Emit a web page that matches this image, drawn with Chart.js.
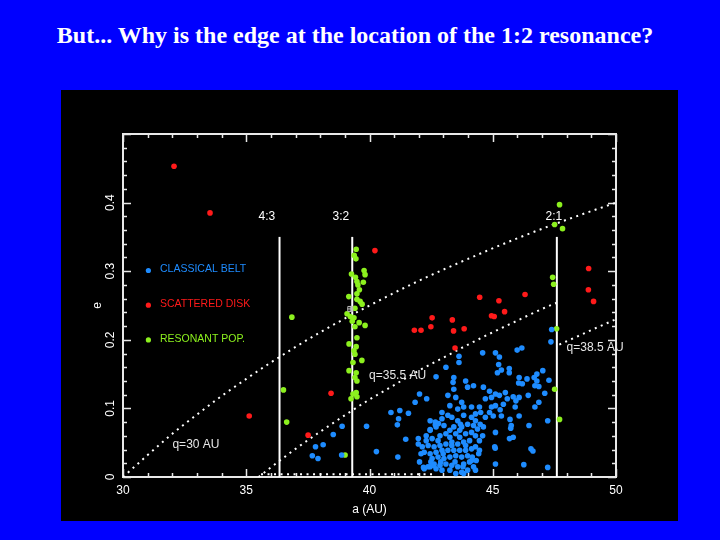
<!DOCTYPE html>
<html>
<head>
<meta charset="utf-8">
<script src="https://cdn.jsdelivr.net/npm/chart.js@4.4.0/dist/chart.umd.min.js"></script>
<style>
  html, body { margin: 0; padding: 0; background: #0000ff; }
  #wrap { position: relative; width: 720px; height: 540px; overflow: hidden; }
  #panel { position: absolute; left: 61px; top: 90px; width: 617px; height: 431px; background: #000; }
  #title { position: absolute; left: 0; top: 21px; width: 710px; text-align: center;
           font: bold 24px "Liberation Serif", "DejaVu Serif", serif; line-height: 28px; color: #fff; }
  canvas { position: absolute; left: 0; top: 0; }
</style>
</head>
<body>
<div id="wrap">
  <div id="title">But... Why is the edge at the location of the 1:2 resonance?</div>
  <div id="panel"></div>
  <canvas id="chart" width="720" height="540"></canvas>
</div>
<script>
// Ticks
const xTicks = [30, 35, 40, 45, 50];
const yTicks = [0, 0.1, 0.2, 0.3, 0.4];

// Classical belt [a, e]
const classical = [
  [37.68,0.031],[37.81,0.044],[37.91,0.027],[38.12,0.047],[38.53,0.062],[38.89,0.074],[38.87,0.032],
  [39.88,0.074],[40.28,0.037],[40.87,0.094],[41.13,0.076],[41.23,0.097],[41.18,0.085],[41.15,0.029],
  [41.47,0.055],[41.58,0.093],[41.85,0.109],[42.03,0.121],[42.32,0.114],[42.49,0.022],
  [42.19,0.014],[42.37,0.015],[42.60,0.017],[42.67,0.076],[42.46,0.069],[42.80,0.078],
  [42.46,0.082],[42.67,0.080],[42.94,0.085],[43.18,0.090],[43.34,0.087],[43.58,0.082],[43.82,0.090],
  [44.14,0.087],[44.30,0.082],[43.98,0.077],[43.74,0.073],[43.42,0.073],[43.02,0.075],[42.70,0.073],
  [42.46,0.068],[42.30,0.060],[42.54,0.056],[42.86,0.060],[43.10,0.063],[43.26,0.058],[43.50,0.063],
  [43.66,0.058],[43.90,0.063],[44.14,0.065],[44.30,0.060],[44.06,0.053],[43.82,0.051],[43.58,0.048],
  [43.34,0.051],[43.10,0.048],[42.86,0.046],[42.62,0.044],[42.38,0.046],[42.14,0.044],[41.98,0.048],
  [42.22,0.036],[42.46,0.034],[42.70,0.036],[42.94,0.039],[43.18,0.039],[43.42,0.039],[43.66,0.039],
  [43.90,0.039],[44.14,0.041],[44.30,0.044],[43.98,0.031],[43.74,0.029],[43.50,0.031],[43.26,0.029],
  [43.02,0.027],[42.78,0.029],[42.54,0.027],[42.62,0.019],[42.86,0.017],[43.10,0.019],[43.34,0.017],
  [43.58,0.015],[43.82,0.019],[44.06,0.022],[44.22,0.015],[44.30,0.010],[43.98,0.010],[43.74,0.007],
  [43.26,0.010],[42.94,0.010],[42.70,0.012],[42.46,0.015],[42.22,0.012],[43.50,0.005],[43.82,0.005],
  [42.03,0.022],[41.98,0.056],
  [43.69,0.077],[44.22,0.075],[44.38,0.070],[44.43,0.034],[44.17,0.029],[44.33,0.024],[42.78,0.053],
  [42.30,0.053],[42.09,0.034],[42.99,0.034],[43.34,0.046],[43.90,0.046],[43.47,0.022],[42.89,0.022],
  [43.66,0.068],[44.14,0.024],[43.26,0.068],[44.46,0.039],[44.49,0.077],[43.79,0.015],
  [43.10,0.160],[42.70,0.146],[43.42,0.145],[43.39,0.138],[43.42,0.128],[43.63,0.176],[43.63,0.167],
  [43.90,0.140],[43.98,0.131],[44.22,0.133],[43.18,0.119],[43.50,0.116],[43.74,0.109],[43.26,0.104],
  [43.58,0.099],[43.82,0.102],[42.94,0.094],[44.14,0.102],[44.46,0.102],[44.51,0.094],[44.30,0.092],
  [44.46,0.053],[44.59,0.060],[44.62,0.073],[44.70,0.087],[44.87,0.094],[44.95,0.102],[45.11,0.065],
  [45.08,0.044],[45.11,0.019],[45.75,0.075],[45.70,0.084],[45.83,0.058],[46.07,0.089],[46.47,0.075],
  [46.55,0.041],[46.26,0.018],[46.71,0.102],[46.87,0.109],[47.11,0.122],[47.23,0.014],[47.23,0.082],
  [46.71,0.133],[44.62,0.131],[44.87,0.125],[44.70,0.114],[44.95,0.116],[45.11,0.121],[45.27,0.119],
  [45.51,0.123],[45.59,0.114],[45.83,0.117],[45.94,0.111],[46.07,0.116],[46.44,0.119],[45.91,0.102],
  [45.43,0.106],[45.11,0.104],[45.30,0.098],[45.02,0.089],[45.35,0.089],[46.63,0.038],[45.10,0.042],
  [45.68,0.056],[45.73,0.071],
  [44.59,0.181],[45.11,0.181],[45.27,0.175],[45.99,0.185],[46.18,0.188],[45.24,0.164],[45.35,0.156],
  [45.19,0.152],[45.67,0.158],[45.67,0.152],[47.03,0.155],[47.36,0.197],[47.39,0.215],[46.68,0.145],
  [46.79,0.140],[46.87,0.132],[46.07,0.145],[46.20,0.136],[46.39,0.143],[47.28,0.141],[46.79,0.150],
  [46.05,0.137]
];

// Scattered disk [a, e]
const scattered = [
  [32.07,0.453],[33.53,0.385],[35.12,0.089],[37.51,0.061],[38.44,0.122],[40.22,0.330],[41.82,0.214],
  [42.09,0.214],[42.54,0.232],[42.49,0.219],[43.36,0.229],[43.41,0.213],[43.84,0.216],[43.47,0.188],
  [44.47,0.262],[44.95,0.235],[45.06,0.234],[45.25,0.257],[45.48,0.241],[46.31,0.266],[48.89,0.304],
  [48.88,0.273],[49.09,0.256]
];

// Resonant population [a, e]
const resonant = [
  [36.85,0.233],[36.51,0.127],[36.64,0.080],
  [47.71,0.397],[47.51,0.368],[47.83,0.362],[47.43,0.291],[47.47,0.281],[47.59,0.216],[47.51,0.128],
  [47.71,0.084],[39.01,0.032],
  [39.46,0.332],[39.38,0.323],[39.45,0.318],[39.27,0.296],[39.78,0.301],[39.82,0.295],[39.43,0.291],
  [39.49,0.285],[39.75,0.284],[39.53,0.280],[39.59,0.273],[39.49,0.267],[39.16,0.263],[39.49,0.259],
  [39.62,0.256],[39.70,0.252],[39.41,0.246],[39.09,0.238],[39.22,0.234],[39.37,0.232],[39.30,0.227],
  [39.58,0.225],[39.82,0.221],[39.41,0.219],[39.49,0.203],[39.17,0.194],[39.46,0.190],[39.37,0.184],
  [39.41,0.179],[39.69,0.170],[39.33,0.167],[39.17,0.155],[39.46,0.152],[39.41,0.145],[39.49,0.140],
  [39.46,0.123],[39.25,0.114],[39.49,0.117],[39.33,0.121]
];

// Pluto marker
const plutoA = [39.22];
const plutoE = [0.245];

// Perihelion curves
const q30A = [30, 31, 32, 33, 34, 35, 36, 38, 40, 42, 44, 46, 48, 50];
const q30E = [0, 0.032, 0.063, 0.091, 0.118, 0.143, 0.167, 0.211, 0.25, 0.286, 0.318, 0.348, 0.375, 0.4];
const q35A = [35.5, 36, 37, 38, 39, 40, 41, 42, 43, 44, 45, 46, 47, 47.6];
const q35E = [0, 0.014, 0.041, 0.066, 0.09, 0.113, 0.134, 0.155, 0.174, 0.193, 0.211, 0.228, 0.245, 0.254];
const q38A = [47.7, 48.5, 49.3, 50];
const q38E = [0.193, 0.206, 0.219, 0.23];
const floorA = [35.6, 42.6];
const floorE = [0.004, 0.004];

// Resonances
const resNames = ['4:3', '3:2', '2:1'];
const resA = [36.35, 39.3, 47.6];
const resLabelA = [35.84, 38.84, 47.48];
const resTopE = 0.35;

// Legend
const legendNames = ['CLASSICAL BELT', 'SCATTERED DISK', 'RESONANT POP.'];
const legendE = [0.301, 0.2505, 0.1998];

const cBlue = '#1e8cff', cRed = '#ff1a1a', cGreen = '#8cf01e';
const FONT = 'Liberation Sans';

const toXY = arr => arr.map(p => ({ x: p[0], y: p[1] }));
const zipXY = (xs, ys) => xs.map((x, i) => ({ x, y: ys[i] }));

const dotted = (data) => ({
  type: 'scatter', data, showLine: true, pointRadius: 0, borderColor: '#fff',
  borderWidth: 2, borderDash: [2, 4.5], cubicInterpolationMode: 'monotone', order: 5
});

const datasets = [
  dotted(zipXY(q30A, q30E)),
  dotted(zipXY(q35A, q35E)),
  dotted(zipXY(q38A, q38E)),
  dotted(zipXY(floorA, floorE)),
];
resA.forEach(a => {
  datasets.push({ data: [{ x: a, y: 0 }, { x: a, y: resTopE }], showLine: true, pointRadius: 0,
    borderColor: '#fff', borderWidth: 2, order: 4 });
});
datasets.push({ data: toXY(classical), pointRadius: 2.8, backgroundColor: cBlue, borderWidth: 0, order: 1 });
datasets.push({ data: toXY(scattered), pointRadius: 2.8, backgroundColor: cRed, borderWidth: 0, order: 1 });
datasets.push({ data: toXY(resonant), pointRadius: 2.8, backgroundColor: cGreen, borderWidth: 0, order: 1 });
datasets.push({ data: zipXY(plutoA, plutoE), pointStyle: 'rect', pointRadius: 3.5,
  backgroundColor: 'rgba(0,0,0,0)', borderColor: '#bbb', borderWidth: 1, order: 0 });
datasets.push({ data: zipXY(plutoA, plutoE), pointStyle: 'cross', pointRadius: 3,
  borderColor: '#bbb', borderWidth: 1, order: 0 });

// frame with inward ticks on all four sides
const framePlugin = {
  id: 'frame',
  beforeDatasetsDraw(chart) {
    const { ctx, chartArea: ca, scales: { x, y } } = chart;
    ctx.save();
    ctx.strokeStyle = '#e8e8e8';
    ctx.lineWidth = 2;
    ctx.strokeRect(ca.left, ca.top, ca.right - ca.left, ca.bottom - ca.top);
    ctx.lineWidth = 1.5;
    ctx.beginPath();
    for (let a = 30; a <= 50; a++) {
      const px = Math.round(x.getPixelForValue(a)) + 0.5;
      const len = a % 5 === 0 ? 8 : 4;
      ctx.moveTo(px, ca.bottom); ctx.lineTo(px, ca.bottom - len);
      ctx.moveTo(px, ca.top); ctx.lineTo(px, ca.top + len);
    }
    for (let i = 0; i <= 25; i++) {
      const py = Math.round(y.getPixelForValue(i * 0.02)) + 0.5;
      const len = i % 5 === 0 ? 8 : 4;
      ctx.moveTo(ca.left, py); ctx.lineTo(ca.left + len, py);
      ctx.moveTo(ca.right, py); ctx.lineTo(ca.right - len, py);
    }
    ctx.stroke();
    ctx.restore();
  },
  afterDatasetsDraw(chart) {
    const { ctx, scales: { x, y } } = chart;
    ctx.save();
    ctx.textBaseline = 'middle';
    // resonance labels
    ctx.fillStyle = '#fff';
    ctx.font = `12px "${FONT}"`;
    ctx.textAlign = 'center';
    resNames.forEach((n, i) => {
      ctx.fillText(n, x.getPixelForValue(resLabelA[i]), y.getPixelForValue(0.38));
    });
    // q labels
    ctx.fillStyle = '#e6e6e6';
    ctx.fillText('q=30 AU', x.getPixelForValue(32.96), y.getPixelForValue(0.047));
    ctx.fillText('q=35.5 AU', x.getPixelForValue(41.14), y.getPixelForValue(0.148));
    ctx.fillText('q=38.5 AU', x.getPixelForValue(49.15), y.getPixelForValue(0.189));
    // legend
    const cols = [cBlue, cRed, cGreen];
    ctx.textAlign = 'left';
    ctx.font = `10.5px "${FONT}"`;
    legendNames.forEach((n, i) => {
      const py = y.getPixelForValue(legendE[i]);
      ctx.fillStyle = cols[i];
      ctx.beginPath();
      ctx.arc(x.getPixelForValue(31.03), py, 2.6, 0, Math.PI * 2);
      ctx.fill();
      ctx.fillText(n, x.getPixelForValue(31.5), py - 1);
    });
    ctx.restore();
  }
};

new Chart(document.getElementById('chart'), {
  type: 'scatter',
  data: { datasets },
  options: {
    responsive: false,
    animation: false,
    layout: { padding: { left: 80, top: 134, right: 104, bottom: 18 } },
    plugins: { legend: { display: false }, tooltip: { enabled: false } },
    scales: {
      x: {
        type: 'linear', min: 30, max: 50,
        afterFit: s => { s.height = 45; },
        afterBuildTicks: s => { s.ticks = xTicks.map(v => ({ value: v })); },
        grid: { display: false, drawTicks: false },
        border: { display: false },
        ticks: { color: '#fff', font: { family: FONT, size: 12 }, padding: 6, maxRotation: 0 },
        title: { display: true, text: 'a (AU)', color: '#fff', font: { family: FONT, size: 12 },
                 padding: { top: 0, bottom: 5 } }
      },
      y: {
        type: 'linear', min: 0, max: 0.5,
        afterFit: s => { s.width = 43; },
        afterBuildTicks: s => { s.ticks = yTicks.map(v => ({ value: v })); },
        grid: { display: false, drawTicks: false },
        border: { display: false },
        ticks: { color: '#fff', font: { family: FONT, size: 12 }, padding: 4,
                 minRotation: 90, maxRotation: 90, crossAlign: 'center' },
        title: { display: true, text: 'e', color: '#fff', font: { family: FONT, size: 12 },
                 padding: { top: 10, bottom: 0 } }
      }
    }
  },
  plugins: [framePlugin]
});
</script>
</body>
</html>
